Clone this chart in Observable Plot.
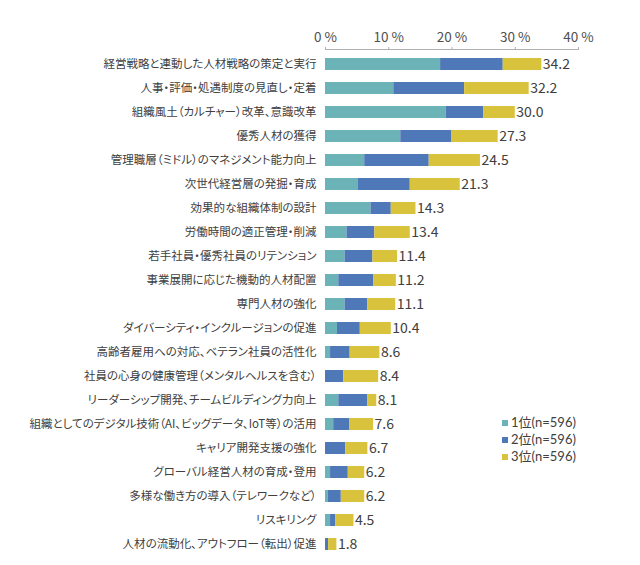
<!DOCTYPE html>
<html>
<head>
<meta charset="utf-8">
<script src="https://cdn.jsdelivr.net/npm/d3@7"></script>
<script src="https://cdn.jsdelivr.net/npm/@observablehq/plot@0.6"></script>
<style>
  body { margin: 0; background: #fff; font-family: "Noto Sans CJK JP", "Noto Sans", sans-serif; }
  #wrap { position: relative; width: 640px; height: 565px; }
  svg { font-feature-settings: "palt"; }
  #legend { position: absolute; left: 502px; top: 415px; font-size: 13px; color: #404040; font-family: Lato, "Noto Sans CJK JP", sans-serif; }
  #legend div { height: 17px; line-height: 15px; white-space: nowrap; }
  #legend .sw { display: inline-block; width: 6px; height: 6px; margin-right: 3px; vertical-align: 1px; }
</style>
</head>
<body>
<div id="wrap"><div id="legend"></div></div>
<script>
const categories = [
  "経営戦略と連動した人材戦略の策定と実行",
  "人事・評価・処遇制度の見直し・定着",
  "組織風土（カルチャー）改革、意識改革",
  "優秀人材の獲得",
  "管理職層（ミドル）のマネジメント能力向上",
  "次世代経営層の発掘・育成",
  "効果的な組織体制の設計",
  "労働時間の適正管理・削減",
  "若手社員・優秀社員のリテンション",
  "事業展開に応じた機動的人材配置",
  "専門人材の強化",
  "ダイバーシティ・インクルージョンの促進",
  "高齢者雇用への対応、ベテラン社員の活性化",
  "社員の心身の健康管理（メンタルヘルスを含む）",
  "リーダーシップ開発、チームビルディング力向上",
  "組織としてのデジタル技術（AI、ビッグデータ、IoT等）の活用",
  "キャリア開発支援の強化",
  "グローバル経営人材の育成・登用",
  "多様な働き方の導入（テレワークなど）",
  "リスキリング",
  "人材の流動化、アウトフロー（転出）促進"
];
const rank1 = [18.2, 10.8, 19.1, 11.9, 6.2, 5.2, 7.2, 3.4, 3.1, 2.1, 3.1, 1.9, 0.8, 0.0, 2.1, 1.3, 0.0, 0.8, 0.4, 0.8, 0.0];
const rank2 = [9.9, 11.2, 5.9, 8.1, 10.2, 8.2, 3.2, 4.4, 4.4, 5.5, 3.6, 3.6, 3.1, 2.9, 4.6, 2.5, 3.2, 2.8, 2.1, 0.8, 0.5];
const rank3 = [6.1, 10.2, 5.0, 7.3, 8.1, 7.9, 3.9, 5.6, 3.9, 3.6, 4.4, 4.9, 4.7, 5.5, 1.4, 3.8, 3.5, 2.6, 3.7, 2.9, 1.3];
const totals = [34.2, 32.2, 30.0, 27.3, 24.5, 21.3, 14.3, 13.4, 11.4, 11.2, 11.1, 10.4, 8.6, 8.4, 8.1, 7.6, 6.7, 6.2, 6.2, 4.5, 1.8];
const seriesNames = ["1位(n=596)", "2位(n=596)", "3位(n=596)"];
const seriesColors = ["#6bb3b6", "#4f78b8", "#d9c23c"];
const xTicks = [0, 10, 20, 30, 40];

const rows = [];
categories.forEach((c, i) => {
  [rank1, rank2, rank3].forEach((arr, k) => rows.push({cat: c, series: seriesNames[k], value: arr[i]}));
});
const totalRows = categories.map((c, i) => ({cat: c, total: totals[i]}));

const chart = Plot.plot({
  width: 640,
  height: 565,
  marginLeft: 325,
  marginRight: 62,
  marginTop: 49,
  marginBottom: 6,
  style: {fontFamily: "'Noto Sans CJK JP', sans-serif", background: "#fff"},
  x: {domain: [0, 40]},
  y: {domain: categories, paddingInner: 0.5, paddingOuter: 0.13},
  color: {domain: seriesNames, range: seriesColors},
  marks: [
    Plot.frame({anchor: "top", stroke: "#b0b0b0"}),
    Plot.axisX({anchor: "top", ticks: xTicks, tickFormat: d => d + " %", tickSize: 3, tickPadding: 5, stroke: "#b0b0b0", fill: "#505050", fontSize: 13.5, label: null}),
    Plot.axisY({anchor: "left", tickSize: 0, tickPadding: 9, fill: "#404040", fontSize: 11.5, label: null}),
    Plot.barX(rows, Plot.stackX({x: "value", y: "cat", fill: "series", order: seriesNames})),
    Plot.text(totalRows, {x: "total", y: "cat", text: d => d.total.toFixed(1), textAnchor: "start", dx: 1, fill: "#404040", fontSize: 14})
  ]
});
document.getElementById("wrap").prepend(chart);

const legend = document.getElementById("legend");
seriesNames.forEach((n, i) => {
  const row = document.createElement("div");
  row.innerHTML = `<span class="sw" style="background:${seriesColors[i]}"></span>${n}`;
  legend.appendChild(row);
});
</script>
</body>
</html>
